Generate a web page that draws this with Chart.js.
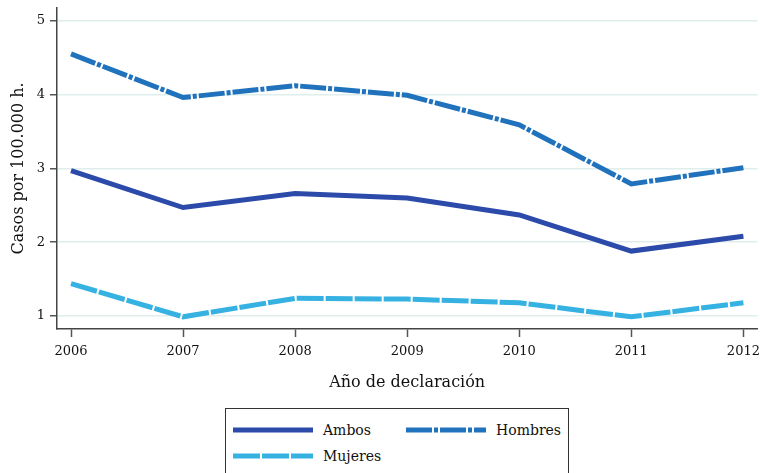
<!DOCTYPE html>
<html>
<head>
<meta charset="utf-8">
<script src="https://cdn.jsdelivr.net/npm/chart.js@4/dist/chart.umd.min.js"></script>
<style>
  body { margin: 0; background: #fff; }
  #wrap { position: relative; width: 760px; height: 473px; overflow: hidden; }
  #chartBox { position: absolute; left: 0; top: -5px; width: 767px; height: 405px; }
  .legend {
    position: absolute; left: 225px; top: 408px; width: 344px; height: 80px;
    border: 1px solid #333; box-sizing: border-box;
    font-family: "DejaVu Serif", serif; font-size: 14px; color: #111;
  }
  .item { position: absolute; display: flex; align-items: center; }
  .item svg { margin-right: 10px; }
</style>
</head>
<body>
<div id="wrap">
  <div id="chartBox"><canvas id="chart"></canvas></div>
  <div class="legend" id="legend"></div>
</div>
<script>
// ---------------- DATA ----------------
const years = [2006, 2007, 2008, 2009, 2010, 2011, 2012];
const yTicks = [1, 2, 3, 4, 5];
const ambos = [2.97, 2.47, 2.66, 2.60, 2.37, 1.88, 2.08];
const hombres = [4.55, 3.96, 4.12, 3.99, 3.59, 2.79, 3.01];
const mujeres = [1.44, 0.99, 1.24, 1.23, 1.18, 0.99, 1.18];

const FONT = '"DejaVu Serif", serif';

const series = [
  { label: 'Ambos', data: ambos, color: '#2b4aa9', dash: [] },
  { label: 'Hombres', data: hombres, color: '#1f72bb', dash: [26, 2, 4, 2] },
  { label: 'Mujeres', data: mujeres, color: '#35b1e2', dash: [27, 2] }
];

// -------- CHART --------
const ctx = document.getElementById('chart');
new Chart(ctx, {
  type: 'line',
  data: {
    datasets: series.map(s => ({
      label: s.label,
      data: years.map((y, i) => ({ x: y, y: s.data[i] })),
      borderColor: s.color,
      backgroundColor: s.color,
      borderWidth: 5,
      borderDash: s.dash,
      pointRadius: 0,
      tension: 0,
      fill: false
    }))
  },
  options: {
    responsive: true,
    maintainAspectRatio: false,
    animation: false,
    layout: { padding: { left: 0, top: 6, right: 3, bottom: 0 } },
    plugins: { legend: { display: false }, tooltip: { enabled: false } },
    scales: {
      x: {
        type: 'linear',
        min: 2005.875,
        max: 2012.125,
        afterBuildTicks: s => { s.ticks = years.map(v => ({ value: v })); },
        afterFit: s => { s.height = 71; },
        grid: { drawOnChartArea: false, tickLength: 8, tickColor: '#555', tickWidth: 1.5 },
        border: { color: '#444', width: 1.5 },
        ticks: {
          color: '#111', font: { family: FONT, size: 13 }, padding: 7,
          maxRotation: 0, callback: v => String(v)
        },
        title: {
          display: true, text: 'Año de declaración', color: '#111',
          font: { family: FONT, size: 16 }, padding: { top: 2, bottom: 8 }
        }
      },
      y: {
        min: 0.825,
        max: 5.175,
        afterBuildTicks: s => { s.ticks = yTicks.map(v => ({ value: v })); },
        afterFit: s => { s.width = 57; },
        grid: { color: '#dfeded', lineWidth: 1.5, tickLength: 7, tickColor: '#555', tickWidth: 1.5 },
        border: { color: '#444', width: 1.5 },
        ticks: { color: '#111', font: { family: FONT, size: 13 }, padding: 5 },
        title: {
          display: true, text: 'Casos por 100.000 h.', color: '#111',
          font: { family: FONT, size: 16 }, padding: { top: 9, bottom: 4 }
        }
      }
    }
  }
});

// -------- LEGEND --------
const legendPos = [
  { left: 7, top: 13 },
  { left: 180, top: 13 },
  { left: 7, top: 39 }
];
const legend = document.getElementById('legend');
series.forEach((s, i) => {
  const el = document.createElement('div');
  el.className = 'item';
  el.style.left = legendPos[i].left + 'px';
  el.style.top = legendPos[i].top + 'px';
  const dash = s.dash.length ? s.dash.join(' ') : 'none';
  el.innerHTML = `
    <svg width="80" height="16"><line x1="0" y1="8" x2="80" y2="8"
      stroke="${s.color}" stroke-width="5" stroke-dasharray="${dash}"/></svg>
    <span>${s.label}</span>`;
  legend.appendChild(el);
});
</script>
</body>
</html>
